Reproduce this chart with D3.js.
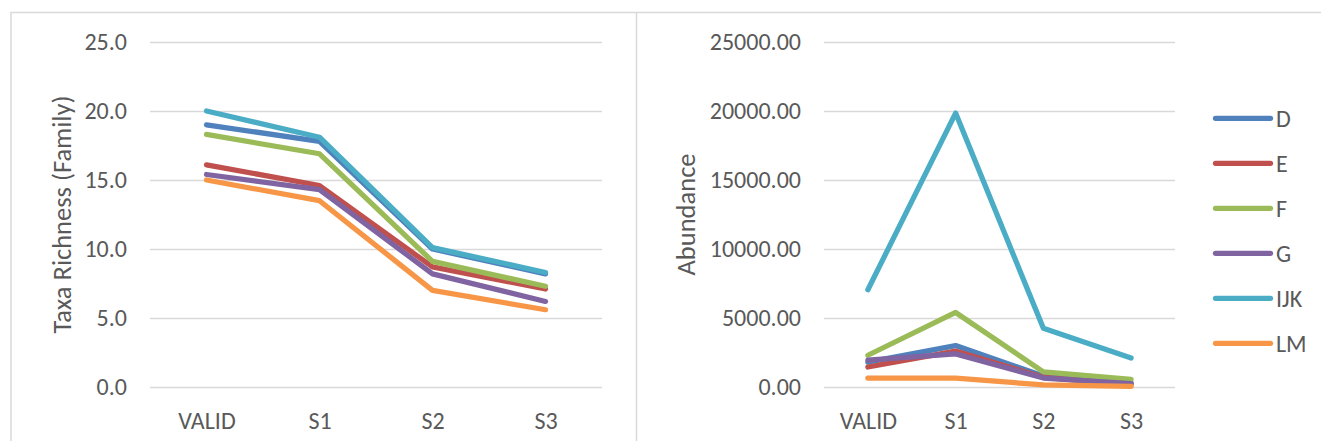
<!DOCTYPE html>
<html>
<head>
<meta charset="utf-8">
<script src="https://cdn.jsdelivr.net/npm/d3@7"></script>
<style>
  html, body { margin: 0; padding: 0; background: #fff; }
  svg { display: block; }
  text { font-family: Carlito, Calibri, "Open Sans", sans-serif; fill: #595959; }
</style>
</head>
<body>
<svg id="chart" width="1321" height="441"></svg>
<script>
// Sampling stations along the x axis
const stations = ["VALID", "S1", "S2", "S3"];

// Series names and colours
const seriesNames = ["D", "E", "F", "G", "IJK", "LM"];
const seriesColors = ["#4F81BD", "#C0504D", "#9BBB59", "#8064A2", "#4BACC6", "#F79646"];

// Taxa richness (family level) per station
const richnessD   = [19.0, 17.8, 10.0, 8.2];
const richnessE   = [16.1, 14.6, 8.7, 7.1];
const richnessF   = [18.3, 16.9, 9.1, 7.3];
const richnessG   = [15.4, 14.3, 8.2, 6.2];
const richnessIJK = [20.0, 18.1, 10.1, 8.3];
const richnessLM  = [15.0, 13.5, 7.0, 5.6];

// Abundance per station
const abundanceD   = [1800, 3000, 800, 300];
const abundanceE   = [1450, 2600, 700, 170];
const abundanceF   = [2300, 5400, 1100, 550];
const abundanceG   = [1950, 2400, 650, 250];
const abundanceIJK = [7050, 19850, 4250, 2100];
const abundanceLM  = [650, 650, 150, 50];

// Axis ticks
const richnessTicks = [0, 5, 10, 15, 20, 25];
const abundanceTicks = [0, 5000, 10000, 15000, 20000, 25000];

const richness = [richnessD, richnessE, richnessF, richnessG, richnessIJK, richnessLM];
const abundance = [abundanceD, abundanceE, abundanceF, abundanceG, abundanceIJK, abundanceLM];

const svg = d3.select("#chart");
const FONT = 24;
const TITLE_FONT = 26.5;
const gridColor = "#d9d9d9";

// Chart frames
svg.append("rect")
  .attr("x", 11).attr("y", 12.5).attr("width", 625.5).attr("height", 440)
  .attr("fill", "none").attr("stroke", gridColor).attr("stroke-width", 1.5);
svg.append("line")
  .attr("x1", 636.5).attr("x2", 1321).attr("y1", 12.5).attr("y2", 12.5)
  .attr("stroke", gridColor).attr("stroke-width", 1.5);

function drawPanel(opts) {
  const x = d3.scalePoint().domain(stations).range([opts.left, opts.right]).padding(0.5);
  const y = d3.scaleLinear().domain([0, opts.max]).range([387, 42]);

  // Horizontal gridlines with value labels
  const yAxis = d3.axisLeft(y)
    .tickValues(opts.ticks)
    .tickSize(-(opts.right - opts.left))
    .tickPadding(23)
    .tickFormat(opts.format);
  const gy = svg.append("g").attr("transform", `translate(${opts.left},0)`).call(yAxis);
  gy.attr("font-family", null).attr("font-size", null);
  gy.select(".domain").remove();
  gy.selectAll(".tick line").attr("stroke", gridColor).attr("stroke-width", 1.3);
  gy.selectAll(".tick text").attr("font-size", FONT);

  // Category labels
  const xAxis = d3.axisBottom(x).tickSize(0).tickPadding(25);
  const gx = svg.append("g").attr("transform", "translate(0,387)").call(xAxis);
  gx.attr("font-family", null).attr("font-size", null);
  gx.select(".domain").remove();
  gx.selectAll(".tick text").attr("font-size", FONT);

  // Axis title
  svg.append("text")
    .attr("transform", `translate(${opts.titleX},214.5) rotate(-90)`)
    .attr("text-anchor", "middle")
    .attr("font-size", TITLE_FONT)
    .text(opts.title);

  // Series lines
  const line = d3.line().x((d, i) => x(stations[i])).y(d => y(d));
  opts.data.forEach((vals, k) => {
    svg.append("path")
      .datum(vals)
      .attr("d", line)
      .attr("fill", "none")
      .attr("stroke", seriesColors[k])
      .attr("stroke-width", 5.25)
      .attr("stroke-linecap", "round")
      .attr("stroke-linejoin", "round");
  });
}

drawPanel({
  left: 150, right: 602, max: 25, ticks: richnessTicks,
  format: d3.format(".1f"), title: "Taxa Richness (Family)", titleX: 71,
  data: richness
});

drawPanel({
  left: 824, right: 1175, max: 25000, ticks: abundanceTicks,
  format: d3.format(".2f"), title: "Abundance", titleX: 695,
  data: abundance
});

// Legend
const legendY = d3.scalePoint().domain(seriesNames).range([118.3, 343.3]);
const legend = svg.append("g");
seriesNames.forEach((name, k) => {
  const yy = legendY(name);
  legend.append("line")
    .attr("x1", 1215.5).attr("x2", 1270.5).attr("y1", yy).attr("y2", yy)
    .attr("stroke", seriesColors[k]).attr("stroke-width", 5.25)
    .attr("stroke-linecap", "round");
  legend.append("text")
    .attr("x", 1276).attr("y", yy).attr("dy", "0.36em")
    .attr("font-size", FONT)
    .text(name);
});
</script>
</body>
</html>
